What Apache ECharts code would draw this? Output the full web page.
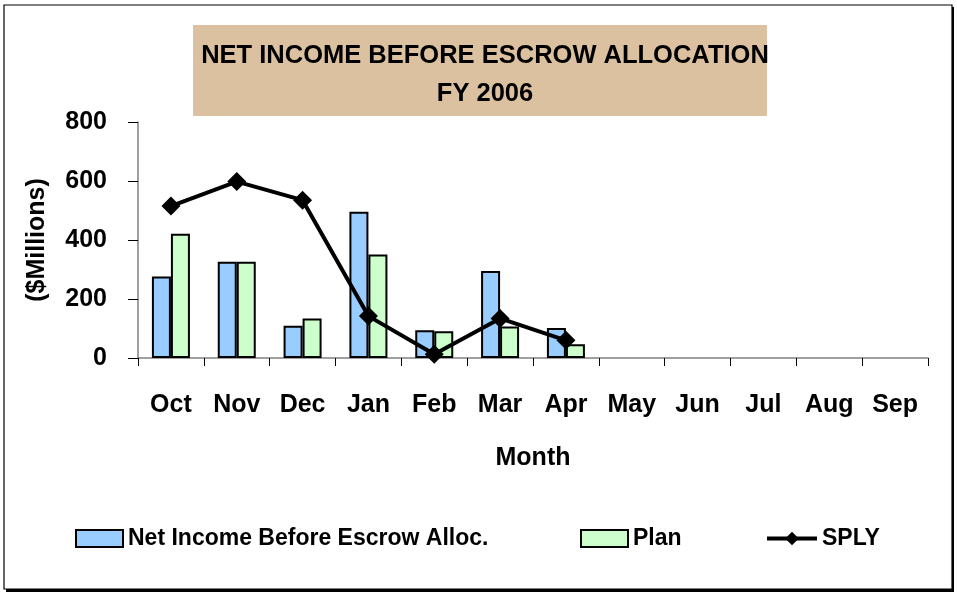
<!DOCTYPE html>
<html><head><meta charset="utf-8">
<script src="https://cdn.jsdelivr.net/npm/echarts@6/dist/echarts.min.js"></script>
<style>html,body{margin:0;padding:0;background:#fff}#c{width:957px;height:593px}</style>
</head><body><div id="c"></div>
<script>
const months = ['Oct','Nov','Dec','Jan','Feb','Mar','Apr','May','Jun','Jul','Aug','Sep'];
const netIncome = [276, 326, 109, 496, 94, 295, 102, null, null, null, null, null];
const plan = [421, 326, 134, 351, 91, 107, 47, null, null, null, null, null];
const sply = [515, 598, 535, 142, 13, 134, 60, null, null, null, null, null];
const yTicks = [0, 200, 400, 600, 800];

const FONT = "'Liberation Sans Narrow','Arial Narrow','Liberation Sans',sans-serif";
const chart = echarts.init(document.getElementById('c'), null, {renderer:'canvas'});
const legendText = {fontFamily:FONT, fontWeight:'bold', fontSize:23, color:'#000'};
chart.setOption({
  backgroundColor:'#fff',
  animation:false,
  graphic:[
    {type:'rect', shape:{x:6, y:7, width:948, height:585}, style:{fill:'#000'}, z:-2},
    {type:'rect', shape:{x:4, y:5, width:948, height:584}, style:{fill:'#fff', stroke:'#000', lineWidth:1.2}, z:-1},
    {type:'rect', shape:{x:193, y:25, width:574, height:91}, style:{fill:'#DCC1A1'}, z:0}
  ],
  title:{
    text:'NET INCOME BEFORE ESCROW ALLOCATION\nFY 2006',
    left:480, top:32, textAlign:'center',
    textStyle:{fontFamily:FONT, fontWeight:'bold', fontSize:25.5, color:'#000', lineHeight:38}
  },
  legend:[
    {data:[{name:'Net Income Before Escrow Alloc.', icon:'rect'}], left:75, top:527, padding:0, itemWidth:47, itemHeight:17, itemGap:8, textStyle:legendText},
    {data:[{name:'Plan', icon:'rect'}], left:580, top:527, padding:0, itemWidth:47, itemHeight:17, textStyle:legendText},
    {data:['SPLY'], left:765, top:527, padding:0, itemWidth:50, itemHeight:17, textStyle:legendText,
     lineStyle:{width:4}}
  ],
  grid:{left:138, right:29, top:122, bottom:235},
  xAxis:{
    type:'category', data:months, boundaryGap:true,
    name:'Month', nameLocation:'middle', nameGap:88,
    nameTextStyle:{fontFamily:FONT, fontWeight:'bold', fontSize:25, color:'#000'},
    axisLine:{lineStyle:{color:'#808080', width:1.5}},
    axisTick:{show:true, interval:0, length:8, lineStyle:{color:'#000'}},
    axisLabel:{interval:0, margin:35, fontFamily:FONT, fontWeight:'bold', fontSize:25, color:'#000'}
  },
  yAxis:{
    type:'value', min:0, max:800, interval:200,
    name:'($Millions)', nameLocation:'middle', nameGap:88, nameRotate:90,
    nameTextStyle:{fontFamily:FONT, fontWeight:'bold', fontSize:25, color:'#000'},
    axisLine:{show:true, lineStyle:{color:'#808080', width:1.5}},
    axisTick:{show:true, inside:false, length:10, lineStyle:{color:'#000'}},
    splitLine:{show:false},
    axisLabel:{margin:31, fontFamily:FONT, fontWeight:'bold', fontSize:25, color:'#000',
      formatter:function(v){return yTicks.indexOf(v)>=0?String(v):'';}}
  },
  series:[
    {name:'Net Income Before Escrow Alloc.', type:'bar', data:netIncome, barWidth:19, barGap:'0%',
     itemStyle:{color:'#99CCFF', borderColor:'#000', borderWidth:2}},
    {name:'Plan', type:'bar', data:plan, barWidth:19,
     itemStyle:{color:'#CCFFCC', borderColor:'#000', borderWidth:2}},
    {name:'SPLY', type:'line', data:sply, symbol:'diamond', symbolSize:19, connectNulls:false,
     itemStyle:{color:'#000'}, lineStyle:{color:'#000', width:4}, z:5}
  ]
});
</script></body></html>
